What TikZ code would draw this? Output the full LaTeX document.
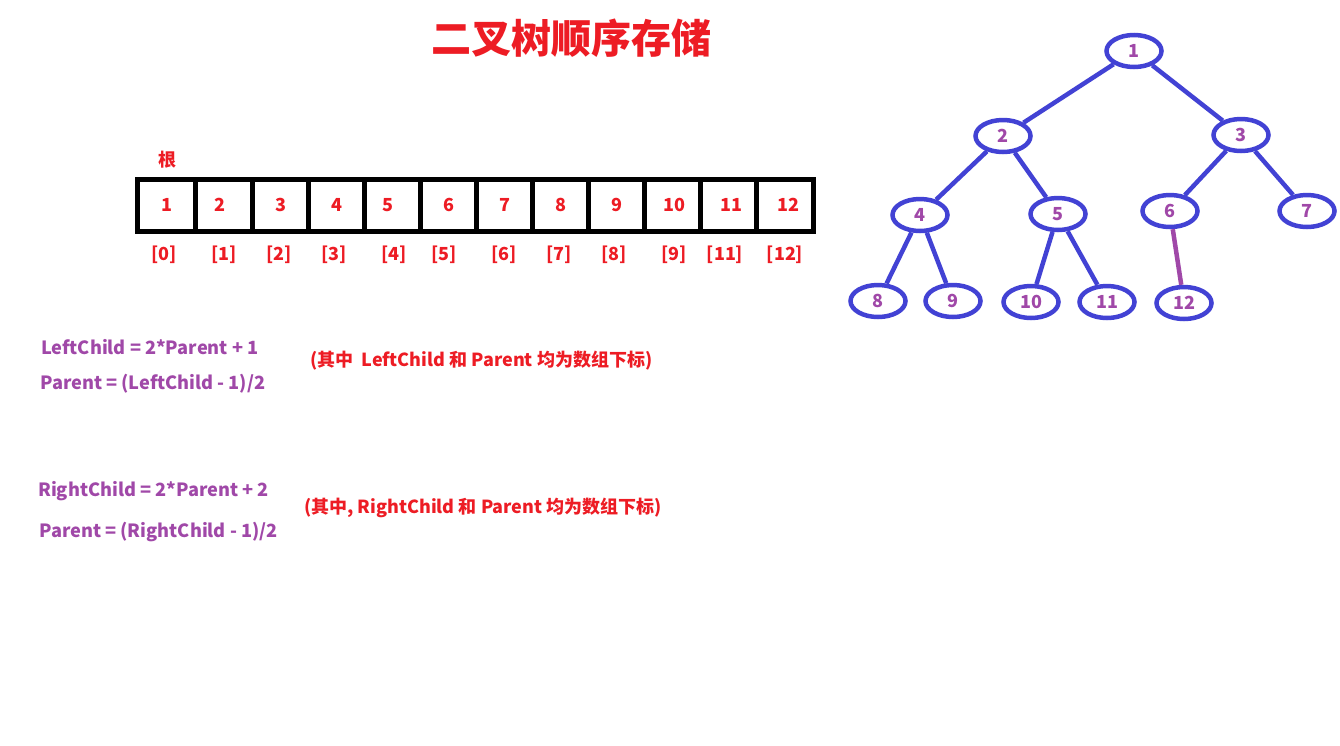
\documentclass[tikz,border=0pt]{standalone}
\usepackage{fontspec}
\setmainfont{Noto Sans CJK SC}
\usetikzlibrary{shapes.geometric}
\definecolor{tred}{RGB}{237,28,36}
\definecolor{tpurple}{RGB}{160,72,168}
\definecolor{tblue}{RGB}{66,66,212}
\begin{document}
\begin{tikzpicture}[x=1pt,y=-1pt,
  tn/.style={ellipse, draw=tblue, line width=4.5pt, minimum width=55pt, minimum height=32pt, inner sep=0pt, text=tpurple, font=\bfseries\fontsize{18}{18}\selectfont},
  edge/.style={draw=tblue, line width=4.5pt},
  edgep/.style={draw=tpurple, line width=4.5pt},
  cell/.style={draw=black, line width=5pt},
  ctext/.style={text=tred, font=\bfseries\fontsize{18}{18}\selectfont, inner sep=0pt},
  ftext/.style={text=tpurple, font=\bfseries\fontsize{18.2}{18.2}\selectfont, inner sep=0pt, anchor=west},
  ntext/.style={text=tred, font=\bfseries\fontsize{18}{18}\selectfont, inner sep=0pt, anchor=west}]
\useasboundingbox[fill=white] (0,0) rectangle (1340,745);
% title
\node[text=tred, font=\bfseries\fontsize{40}{40}\selectfont, inner sep=0pt] (title) at (571,38) {二叉树顺序存储};
% array
\draw[cell] (137,179) rectangle (813,231);
\foreach \x in {195,252,308,364,420,476,532,588,644,700,756}
  \draw[cell] (\x,179) -- (\x,231);
\node[ctext] (root) at (167,160) {根};
\foreach \v/\x in {1/167,2/220,3/281,4/337,5/388,6/449,7/505,8/561,9/617,10/674,11/731,12/788}
  \node[ctext] (c\v) at (\x,205) {\v};
\foreach \i/\t/\x in {0/0/164,1/1/224,2/2/279,3/3/334,4/4/394,5/5/444,6/6/504,7/7/559,8/8/614,9/9/674,10/11/725,11/12/785}
  \node[ctext] (i\i) at (\x,255) {[\t]};
% formulas
\node[ftext] (f1) at (41,347) {LeftChild = 2*Parent + 1};
\node[ftext] (f2) at (40,384) {Parent = (LeftChild - 1)/2};
\node[ntext] (n1) at (310,361) {(其中\ \ LeftChild 和 Parent 均为数组下标)};
\node[ftext] (f3) at (38,491) {RightChild = 2*Parent + 2};
\node[ntext] (n2) at (304,508) {(其中, RightChild 和 Parent 均为数组下标)};
\node[ftext] (f4) at (39,532) {Parent = (RightChild - 1)/2};
% tree
\node[tn] (t1) at (1134,51) {1};
\node[tn] (t2) at (1003,136) {2};
\node[tn] (t3) at (1241,135) {3};
\node[tn] (t4) at (920,215) {4};
\node[tn] (t5) at (1058,214) {5};
\node[tn] (t6) at (1170,211) {6};
\node[tn] (t7) at (1307,211) {7};
\node[tn] (t8) at (878,301) {8};
\node[tn] (t9) at (953,301) {9};
\node[tn] (t10) at (1031,302) {10};
\node[tn] (t11) at (1107,302) {11};
\node[tn] (t12) at (1184,303) {12};
\draw[edge] (t1) -- (t2);
\draw[edge] (t1) -- (t3);
\draw[edge] (t2) -- (t4);
\draw[edge] (t2) -- (t5);
\draw[edge] (t3) -- (t6);
\draw[edge] (t3) -- (t7);
\draw[edge] (t4) -- (t8);
\draw[edge] (t4) -- (t9);
\draw[edge] (t5) -- (t10);
\draw[edge] (t5) -- (t11);
\draw[edgep] (t6) -- (t12);
\end{tikzpicture}
\end{document}
